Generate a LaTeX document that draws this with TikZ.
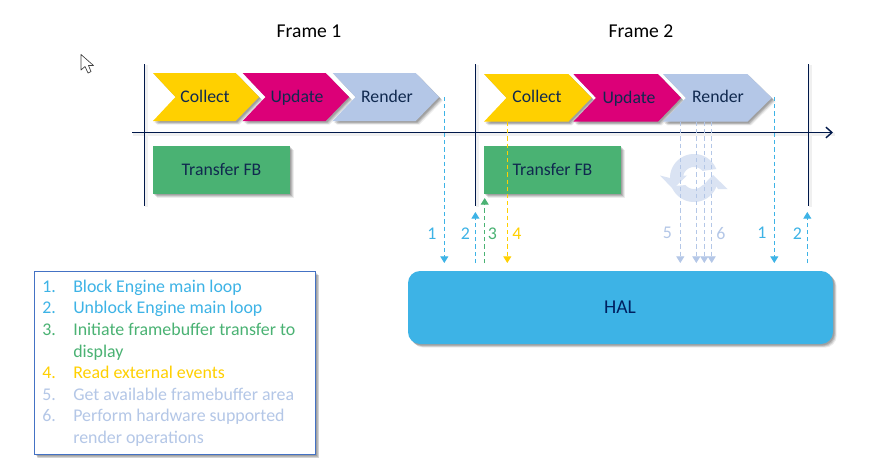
\documentclass[tikz,border=0pt]{standalone}
\usepackage{fontspec}
\setmainfont{Carlito}
\usetikzlibrary{arrows.meta,shadows}
\definecolor{navy}{HTML}{002060}
\definecolor{axisink}{HTML}{00184A}
\definecolor{inktext}{HTML}{10294F}
\definecolor{cyellow}{HTML}{FFD000}
\definecolor{cmagenta}{HTML}{DC0078}
\definecolor{clav}{HTML}{B4C7E7}
\definecolor{cgreen}{HTML}{4AB273}
\definecolor{cblue}{HTML}{3DB3E6}
\definecolor{cicon}{HTML}{DAE3F3}
\definecolor{cframe}{HTML}{4472C4}
\tikzset{
  softshadow/.style={
    drop shadow={shadow xshift=2.8pt,shadow yshift=-2.8pt,opacity=.07,fill=black},
    drop shadow={shadow xshift=2.2pt,shadow yshift=-2.2pt,opacity=.10,fill=black},
    drop shadow={shadow xshift=1.6pt,shadow yshift=-1.6pt,opacity=.13,fill=black},
    drop shadow={shadow xshift=1.0pt,shadow yshift=-1.0pt,opacity=.13,fill=black}},
  chevron/.style={fill=#1,softshadow},
  label/.style={font=\fontsize{13.3}{16}\selectfont,text=inktext,inner sep=0pt,anchor=center,text height=10.2pt,text depth=2pt},
  title/.style={font=\fontsize{14.7}{18}\selectfont,text=black,inner sep=0pt,anchor=center},
  num/.style={font=\fontsize{13.4}{16}\selectfont,text=#1,inner sep=0pt,anchor=center},
  legend/.style={font=\fontsize{13.4}{16}\selectfont,text=#1,inner sep=0pt,anchor=base west},
  barline/.style={draw=axisink,line width=1.05pt},
  linehalo/.style={draw=black!6,line width=2.4pt},
  dashline/.style={draw=#1,line width=.75pt,dash pattern=on 3.2pt off 2.2pt,
    -{Triangle[length=5pt,width=6pt,fill=#1]}},
  block/.style={fill=cgreen,softshadow},
}
\newcommand{\chev}[7]{% x0 notch shoulder tip ytop ybottom colour
  \path[chevron=#7] (#1,#5) -- (#3,#5) -- (#4,{(#5+#6)/2}) -- (#3,#6) -- (#1,#6) -- (#2,{(#5+#6)/2}) -- cycle;}
\begin{document}
\begin{tikzpicture}[x=0.75pt,y=-0.75pt]
\useasboundingbox (0,0) rectangle (881,465);
\fill[white] (0,0) rectangle (881,465);

% pointer
\draw[draw=black!75,fill=white,line width=.5pt,line join=round]
  (81,54.5) -- (81,70) -- (85,66.5) -- (88,73) -- (91,71.5) -- (88.5,65.5) -- (93.5,65.5) -- cycle;

% titles
\node[title] (frameA) at (309,31) {Frame 1};
\node[title] (frameB) at (641,31) {Frame 2};

% time lines (soft halo first)
\draw[linehalo] (146.5,65) -- (146.5,207);
\draw[linehalo] (477.5,65) -- (477.5,207);
\draw[linehalo] (810.5,65) -- (810.5,207);
\draw[linehalo] (133,134.5) -- (835,134.5);

% refresh icon
\fill[cicon] plot[domain=22:180,samples=40] ({694+24*cos(\x)},{178-24*sin(\x)})
  -- (660,175.5) -- (673,189) -- (687,175.5) -- (682,175.5)
  -- plot[domain=180:40,samples=40] ({694+11*cos(\x)},{178-11*sin(\x)}) -- cycle;
\fill[cicon] plot[domain=200:340,samples=40] ({694+24*cos(\x)},{178-24*sin(\x)})
  -- (718,189) -- (727.5,189) -- (713,175) -- (700,188.5) -- (705,188)
  -- plot[domain=320:220,samples=40] ({694+11*cos(\x)},{178-11*sin(\x)}) -- cycle;

% frame 1 chevrons
\chev{153}{175.5}{235.7}{259}{73}{121}{cyellow}
\chev{242.7}{265.5}{325.7}{349}{73}{121}{cmagenta}
\chev{332.7}{355.5}{415.7}{439}{73}{121}{clav}
\node[label] (collectA) at (205,97) {Collect};
\node[label] (updateA) at (297,97) {Update};
\node[label] (renderA) at (387,97) {Render};

% frame 2 chevrons
\chev{484}{506.5}{568.3}{591.7}{74}{121.7}{cyellow}
\chev{573.3}{596}{658}{681}{74}{121.7}{cmagenta}
\chev{663}{686}{747.3}{771.7}{74}{121.7}{clav}
\node[label] (collectB) at (537,97) {Collect};
\node[label] (updateB) at (629,98) {Update};
\node[label] (renderB) at (718,97) {Render};

% transfer blocks
\path[block] (153,146) rectangle (290,194);
\node[label] (transferA) at (221.5,170) {Transfer FB};
\path[block] (484,146) rectangle (621,194);
\node[label] (transferB) at (552.5,170) {Transfer FB};

% time lines
\draw[barline] (144.3,64) -- (144.3,205.5);
\draw[barline] (475.5,64) -- (475.5,206);
\draw[barline] (808.5,64) -- (808.5,206);
\draw[barline,-{Straight Barb[length=4.5pt,width=8pt]}] (132,132.5) -- (833,132.5);

% HAL
\path[fill=cblue,rounded corners=9pt,softshadow] (408,271) rectangle (833,344);
\node[title,text=navy] (hal) at (620,307.5) {HAL};

% connector ends
\coordinate (a1t) at (444.3,97);   \coordinate (a1h) at (444.3,263);
\coordinate (a2h) at (475.4,212);  \coordinate (a2b) at (475.4,263);
\coordinate (a3h) at (484.7,198);  \coordinate (a3b) at (484.7,263);
\coordinate (a4t) at (507.3,122);  \coordinate (a4h) at (507.3,263);
\coordinate (a5t) at (680.3,122);  \coordinate (a5h) at (680.3,263);
\coordinate (a6t) at (696.3,122);  \coordinate (a6h) at (696.3,263);
\coordinate (a7t) at (704.3,122);  \coordinate (a7h) at (704.3,263);
\coordinate (a8t) at (711.7,122);  \coordinate (a8h) at (711.7,263);
\coordinate (a9t) at (774.3,97);   \coordinate (a9h) at (774.3,263);
\coordinate (a0h) at (807.3,212);  \coordinate (a0b) at (807.3,263);

\draw[dashline=cblue] (a1t) -- (a1h);
\draw[dashline=cblue] (a2b) -- (a2h);
\draw[dashline=cgreen] (a3b) -- (a3h);
\draw[dashline=cyellow] (a4t) -- (a4h);
\draw[dashline=clav] (a5t) -- (a5h);
\draw[dashline=clav] (a6t) -- (a6h);
\draw[dashline=clav] (a7t) -- (a7h);
\draw[dashline=clav] (a8t) -- (a8h);
\draw[dashline=cblue] (a9t) -- (a9h);
\draw[dashline=cblue] (a0b) -- (a0h);

% arrow numbers
\node[num=cblue] (n1) at (432,234) {1};
\node[num=cblue] (n2) at (465.5,234) {2};
\node[num=cgreen] (n3) at (492.5,234) {3};
\node[num=cyellow] (n4) at (517,234) {4};
\node[num=clav] (n5) at (667.5,233) {5};
\node[num=clav] (n6) at (721,234) {6};
\node[num=cblue] (n7) at (762,233) {1};
\node[num=cblue] (n8) at (797.5,234) {2};

% legend
\path[draw=cframe,fill=white,line width=.8pt,softshadow] (34.5,271.7) rectangle (315.7,454.7);
\node[legend=cblue] (l1n) at (42,292.7) {1.};
\node[legend=cblue] (l1) at (73,292.7) {Block Engine main loop};
\node[legend=cblue] (l2n) at (42,313.7) {2.};
\node[legend=cblue] (l2) at (73,313.7) {Unblock Engine main loop};
\node[legend=cgreen] (l3n) at (42,335.7) {3.};
\node[legend=cgreen] (l3) at (73,335.7) {Initiate framebuffer transfer to};
\node[legend=cgreen] (l3b) at (73,357.7) {display};
\node[legend=cyellow] (l4n) at (42,378.7) {4.};
\node[legend=cyellow] (l4) at (73,378.7) {Read external events};
\node[legend=clav] (l5n) at (42,400.7) {5.};
\node[legend=clav] (l5) at (73,400.7) {Get available framebuffer area};
\node[legend=clav] (l6n) at (42,421.7) {6.};
\node[legend=clav] (l6) at (73,421.7) {Perform hardware supported};
\node[legend=clav] (l6b) at (73,443.7) {render operations};
\end{tikzpicture}
\end{document}
